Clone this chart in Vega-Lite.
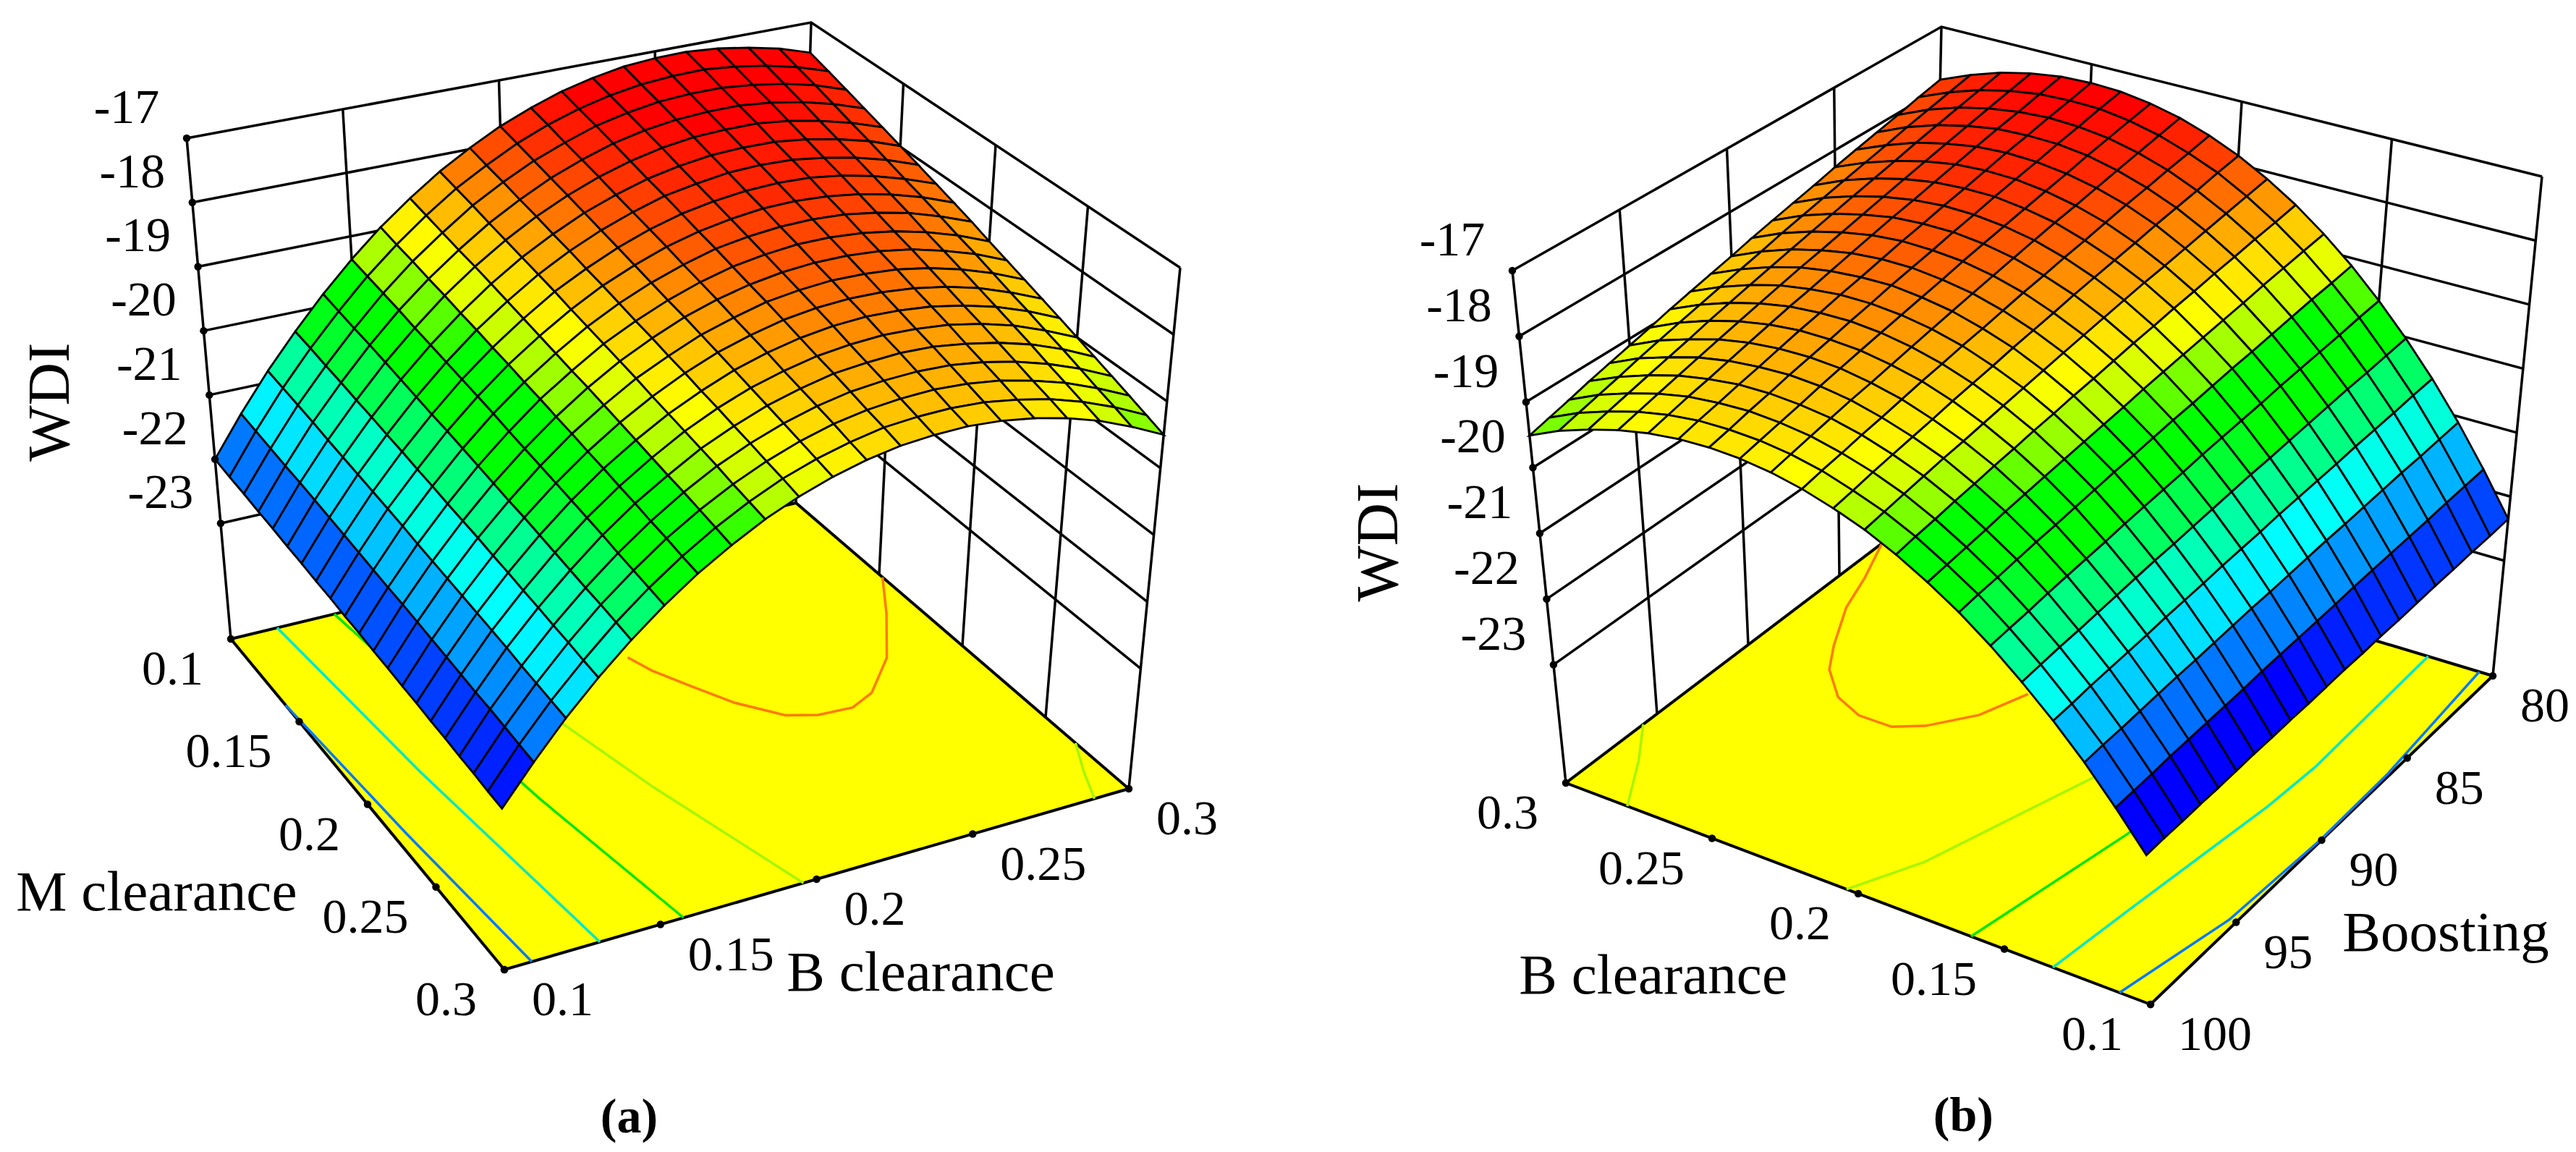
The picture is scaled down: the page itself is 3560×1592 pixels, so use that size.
{"$schema":"https://vega.github.io/schema/vega-lite/v6.json","width":3560,"height":1592,"padding":0,"autosize":{"type":"none"},"background":"#ffffff","view":{"stroke":null},
"data":{"values":[
{"s":"a","i":0,"j":0,"w":-22},{"s":"a","i":0,"j":1,"w":-22.03},{"s":"a","i":0,"j":2,"w":-22.05},{"s":"a","i":0,"j":3,"w":-22.08},{"s":"a","i":0,"j":4,"w":-22.1},{"s":"a","i":0,"j":5,"w":-22.13},{"s":"a","i":0,"j":6,"w":-22.15},{"s":"a","i":0,"j":7,"w":-22.18},{"s":"a","i":0,"j":8,"w":-22.2},{"s":"a","i":0,"j":9,"w":-22.23},{"s":"a","i":0,"j":10,"w":-22.25},{"s":"a","i":0,"j":11,"w":-22.28},{"s":"a","i":0,"j":12,"w":-22.3},{"s":"a","i":0,"j":13,"w":-22.33},{"s":"a","i":0,"j":14,"w":-22.35},{"s":"a","i":0,"j":15,"w":-22.38},{"s":"a","i":0,"j":16,"w":-22.4},{"s":"a","i":0,"j":17,"w":-22.43},{"s":"a","i":0,"j":18,"w":-22.45},{"s":"a","i":0,"j":19,"w":-22.48},{"s":"a","i":0,"j":20,"w":-22.5},
{"s":"a","i":1,"j":0,"w":-21.39},{"s":"a","i":1,"j":1,"w":-21.42},{"s":"a","i":1,"j":2,"w":-21.45},{"s":"a","i":1,"j":3,"w":-21.48},{"s":"a","i":1,"j":4,"w":-21.5},{"s":"a","i":1,"j":5,"w":-21.53},{"s":"a","i":1,"j":6,"w":-21.56},{"s":"a","i":1,"j":7,"w":-21.59},{"s":"a","i":1,"j":8,"w":-21.62},{"s":"a","i":1,"j":9,"w":-21.65},{"s":"a","i":1,"j":10,"w":-21.68},{"s":"a","i":1,"j":11,"w":-21.7},{"s":"a","i":1,"j":12,"w":-21.73},{"s":"a","i":1,"j":13,"w":-21.76},{"s":"a","i":1,"j":14,"w":-21.79},{"s":"a","i":1,"j":15,"w":-21.82},{"s":"a","i":1,"j":16,"w":-21.85},{"s":"a","i":1,"j":17,"w":-21.87},{"s":"a","i":1,"j":18,"w":-21.9},{"s":"a","i":1,"j":19,"w":-21.93},{"s":"a","i":1,"j":20,"w":-21.96},
{"s":"a","i":2,"j":0,"w":-20.82},{"s":"a","i":2,"j":1,"w":-20.85},{"s":"a","i":2,"j":2,"w":-20.88},{"s":"a","i":2,"j":3,"w":-20.91},{"s":"a","i":2,"j":4,"w":-20.95},{"s":"a","i":2,"j":5,"w":-20.98},{"s":"a","i":2,"j":6,"w":-21.01},{"s":"a","i":2,"j":7,"w":-21.04},{"s":"a","i":2,"j":8,"w":-21.07},{"s":"a","i":2,"j":9,"w":-21.1},{"s":"a","i":2,"j":10,"w":-21.14},{"s":"a","i":2,"j":11,"w":-21.17},{"s":"a","i":2,"j":12,"w":-21.2},{"s":"a","i":2,"j":13,"w":-21.23},{"s":"a","i":2,"j":14,"w":-21.26},{"s":"a","i":2,"j":15,"w":-21.29},{"s":"a","i":2,"j":16,"w":-21.32},{"s":"a","i":2,"j":17,"w":-21.36},{"s":"a","i":2,"j":18,"w":-21.39},{"s":"a","i":2,"j":19,"w":-21.42},{"s":"a","i":2,"j":20,"w":-21.45},
{"s":"a","i":3,"j":0,"w":-20.3},{"s":"a","i":3,"j":1,"w":-20.33},{"s":"a","i":3,"j":2,"w":-20.37},{"s":"a","i":3,"j":3,"w":-20.4},{"s":"a","i":3,"j":4,"w":-20.44},{"s":"a","i":3,"j":5,"w":-20.47},{"s":"a","i":3,"j":6,"w":-20.51},{"s":"a","i":3,"j":7,"w":-20.54},{"s":"a","i":3,"j":8,"w":-20.58},{"s":"a","i":3,"j":9,"w":-20.61},{"s":"a","i":3,"j":10,"w":-20.65},{"s":"a","i":3,"j":11,"w":-20.68},{"s":"a","i":3,"j":12,"w":-20.71},{"s":"a","i":3,"j":13,"w":-20.75},{"s":"a","i":3,"j":14,"w":-20.78},{"s":"a","i":3,"j":15,"w":-20.82},{"s":"a","i":3,"j":16,"w":-20.85},{"s":"a","i":3,"j":17,"w":-20.89},{"s":"a","i":3,"j":18,"w":-20.92},{"s":"a","i":3,"j":19,"w":-20.96},{"s":"a","i":3,"j":20,"w":-20.99},
{"s":"a","i":4,"j":0,"w":-19.81},{"s":"a","i":4,"j":1,"w":-19.85},{"s":"a","i":4,"j":2,"w":-19.89},{"s":"a","i":4,"j":3,"w":-19.92},{"s":"a","i":4,"j":4,"w":-19.96},{"s":"a","i":4,"j":5,"w":-20},{"s":"a","i":4,"j":6,"w":-20.04},{"s":"a","i":4,"j":7,"w":-20.08},{"s":"a","i":4,"j":8,"w":-20.11},{"s":"a","i":4,"j":9,"w":-20.15},{"s":"a","i":4,"j":10,"w":-20.19},{"s":"a","i":4,"j":11,"w":-20.23},{"s":"a","i":4,"j":12,"w":-20.27},{"s":"a","i":4,"j":13,"w":-20.3},{"s":"a","i":4,"j":14,"w":-20.34},{"s":"a","i":4,"j":15,"w":-20.38},{"s":"a","i":4,"j":16,"w":-20.42},{"s":"a","i":4,"j":17,"w":-20.46},{"s":"a","i":4,"j":18,"w":-20.49},{"s":"a","i":4,"j":19,"w":-20.53},{"s":"a","i":4,"j":20,"w":-20.57},
{"s":"a","i":5,"j":0,"w":-19.36},{"s":"a","i":5,"j":1,"w":-19.4},{"s":"a","i":5,"j":2,"w":-19.44},{"s":"a","i":5,"j":3,"w":-19.48},{"s":"a","i":5,"j":4,"w":-19.53},{"s":"a","i":5,"j":5,"w":-19.57},{"s":"a","i":5,"j":6,"w":-19.61},{"s":"a","i":5,"j":7,"w":-19.65},{"s":"a","i":5,"j":8,"w":-19.69},{"s":"a","i":5,"j":9,"w":-19.73},{"s":"a","i":5,"j":10,"w":-19.78},{"s":"a","i":5,"j":11,"w":-19.82},{"s":"a","i":5,"j":12,"w":-19.86},{"s":"a","i":5,"j":13,"w":-19.9},{"s":"a","i":5,"j":14,"w":-19.94},{"s":"a","i":5,"j":15,"w":-19.98},{"s":"a","i":5,"j":16,"w":-20.02},{"s":"a","i":5,"j":17,"w":-20.07},{"s":"a","i":5,"j":18,"w":-20.11},{"s":"a","i":5,"j":19,"w":-20.15},{"s":"a","i":5,"j":20,"w":-20.19},
{"s":"a","i":6,"j":0,"w":-18.95},{"s":"a","i":6,"j":1,"w":-19},{"s":"a","i":6,"j":2,"w":-19.04},{"s":"a","i":6,"j":3,"w":-19.09},{"s":"a","i":6,"j":4,"w":-19.13},{"s":"a","i":6,"j":5,"w":-19.18},{"s":"a","i":6,"j":6,"w":-19.22},{"s":"a","i":6,"j":7,"w":-19.27},{"s":"a","i":6,"j":8,"w":-19.31},{"s":"a","i":6,"j":9,"w":-19.36},{"s":"a","i":6,"j":10,"w":-19.4},{"s":"a","i":6,"j":11,"w":-19.45},{"s":"a","i":6,"j":12,"w":-19.49},{"s":"a","i":6,"j":13,"w":-19.54},{"s":"a","i":6,"j":14,"w":-19.58},{"s":"a","i":6,"j":15,"w":-19.63},{"s":"a","i":6,"j":16,"w":-19.67},{"s":"a","i":6,"j":17,"w":-19.72},{"s":"a","i":6,"j":18,"w":-19.76},{"s":"a","i":6,"j":19,"w":-19.81},{"s":"a","i":6,"j":20,"w":-19.85},
{"s":"a","i":7,"j":0,"w":-18.59},{"s":"a","i":7,"j":1,"w":-18.64},{"s":"a","i":7,"j":2,"w":-18.69},{"s":"a","i":7,"j":3,"w":-18.74},{"s":"a","i":7,"j":4,"w":-18.78},{"s":"a","i":7,"j":5,"w":-18.83},{"s":"a","i":7,"j":6,"w":-18.88},{"s":"a","i":7,"j":7,"w":-18.93},{"s":"a","i":7,"j":8,"w":-18.98},{"s":"a","i":7,"j":9,"w":-19.03},{"s":"a","i":7,"j":10,"w":-19.08},{"s":"a","i":7,"j":11,"w":-19.12},{"s":"a","i":7,"j":12,"w":-19.17},{"s":"a","i":7,"j":13,"w":-19.22},{"s":"a","i":7,"j":14,"w":-19.27},{"s":"a","i":7,"j":15,"w":-19.32},{"s":"a","i":7,"j":16,"w":-19.37},{"s":"a","i":7,"j":17,"w":-19.41},{"s":"a","i":7,"j":18,"w":-19.46},{"s":"a","i":7,"j":19,"w":-19.51},{"s":"a","i":7,"j":20,"w":-19.56},
{"s":"a","i":8,"j":0,"w":-18.26},{"s":"a","i":8,"j":1,"w":-18.31},{"s":"a","i":8,"j":2,"w":-18.36},{"s":"a","i":8,"j":3,"w":-18.42},{"s":"a","i":8,"j":4,"w":-18.47},{"s":"a","i":8,"j":5,"w":-18.52},{"s":"a","i":8,"j":6,"w":-18.57},{"s":"a","i":8,"j":7,"w":-18.62},{"s":"a","i":8,"j":8,"w":-18.68},{"s":"a","i":8,"j":9,"w":-18.73},{"s":"a","i":8,"j":10,"w":-18.78},{"s":"a","i":8,"j":11,"w":-18.83},{"s":"a","i":8,"j":12,"w":-18.88},{"s":"a","i":8,"j":13,"w":-18.94},{"s":"a","i":8,"j":14,"w":-18.99},{"s":"a","i":8,"j":15,"w":-19.04},{"s":"a","i":8,"j":16,"w":-19.09},{"s":"a","i":8,"j":17,"w":-19.14},{"s":"a","i":8,"j":18,"w":-19.2},{"s":"a","i":8,"j":19,"w":-19.25},{"s":"a","i":8,"j":20,"w":-19.3},
{"s":"a","i":9,"j":0,"w":-17.98},{"s":"a","i":9,"j":1,"w":-18.04},{"s":"a","i":9,"j":2,"w":-18.09},{"s":"a","i":9,"j":3,"w":-18.15},{"s":"a","i":9,"j":4,"w":-18.2},{"s":"a","i":9,"j":5,"w":-18.26},{"s":"a","i":9,"j":6,"w":-18.31},{"s":"a","i":9,"j":7,"w":-18.37},{"s":"a","i":9,"j":8,"w":-18.42},{"s":"a","i":9,"j":9,"w":-18.48},{"s":"a","i":9,"j":10,"w":-18.54},{"s":"a","i":9,"j":11,"w":-18.59},{"s":"a","i":9,"j":12,"w":-18.65},{"s":"a","i":9,"j":13,"w":-18.7},{"s":"a","i":9,"j":14,"w":-18.76},{"s":"a","i":9,"j":15,"w":-18.81},{"s":"a","i":9,"j":16,"w":-18.87},{"s":"a","i":9,"j":17,"w":-18.92},{"s":"a","i":9,"j":18,"w":-18.98},{"s":"a","i":9,"j":19,"w":-19.03},{"s":"a","i":9,"j":20,"w":-19.09},
{"s":"a","i":10,"j":0,"w":-17.73},{"s":"a","i":10,"j":1,"w":-17.79},{"s":"a","i":10,"j":2,"w":-17.85},{"s":"a","i":10,"j":3,"w":-17.91},{"s":"a","i":10,"j":4,"w":-17.97},{"s":"a","i":10,"j":5,"w":-18.03},{"s":"a","i":10,"j":6,"w":-18.09},{"s":"a","i":10,"j":7,"w":-18.15},{"s":"a","i":10,"j":8,"w":-18.21},{"s":"a","i":10,"j":9,"w":-18.27},{"s":"a","i":10,"j":10,"w":-18.33},{"s":"a","i":10,"j":11,"w":-18.38},{"s":"a","i":10,"j":12,"w":-18.44},{"s":"a","i":10,"j":13,"w":-18.5},{"s":"a","i":10,"j":14,"w":-18.56},{"s":"a","i":10,"j":15,"w":-18.62},{"s":"a","i":10,"j":16,"w":-18.68},{"s":"a","i":10,"j":17,"w":-18.74},{"s":"a","i":10,"j":18,"w":-18.8},{"s":"a","i":10,"j":19,"w":-18.86},{"s":"a","i":10,"j":20,"w":-18.92},
{"s":"a","i":11,"j":0,"w":-17.53},{"s":"a","i":11,"j":1,"w":-17.59},{"s":"a","i":11,"j":2,"w":-17.66},{"s":"a","i":11,"j":3,"w":-17.72},{"s":"a","i":11,"j":4,"w":-17.78},{"s":"a","i":11,"j":5,"w":-17.85},{"s":"a","i":11,"j":6,"w":-17.91},{"s":"a","i":11,"j":7,"w":-17.97},{"s":"a","i":11,"j":8,"w":-18.03},{"s":"a","i":11,"j":9,"w":-18.1},{"s":"a","i":11,"j":10,"w":-18.16},{"s":"a","i":11,"j":11,"w":-18.22},{"s":"a","i":11,"j":12,"w":-18.29},{"s":"a","i":11,"j":13,"w":-18.35},{"s":"a","i":11,"j":14,"w":-18.41},{"s":"a","i":11,"j":15,"w":-18.48},{"s":"a","i":11,"j":16,"w":-18.54},{"s":"a","i":11,"j":17,"w":-18.6},{"s":"a","i":11,"j":18,"w":-18.66},{"s":"a","i":11,"j":19,"w":-18.73},{"s":"a","i":11,"j":20,"w":-18.79},
{"s":"a","i":12,"j":0,"w":-17.36},{"s":"a","i":12,"j":1,"w":-17.43},{"s":"a","i":12,"j":2,"w":-17.49},{"s":"a","i":12,"j":3,"w":-17.56},{"s":"a","i":12,"j":4,"w":-17.63},{"s":"a","i":12,"j":5,"w":-17.7},{"s":"a","i":12,"j":6,"w":-17.76},{"s":"a","i":12,"j":7,"w":-17.83},{"s":"a","i":12,"j":8,"w":-17.9},{"s":"a","i":12,"j":9,"w":-17.96},{"s":"a","i":12,"j":10,"w":-18.03},{"s":"a","i":12,"j":11,"w":-18.1},{"s":"a","i":12,"j":12,"w":-18.16},{"s":"a","i":12,"j":13,"w":-18.23},{"s":"a","i":12,"j":14,"w":-18.3},{"s":"a","i":12,"j":15,"w":-18.37},{"s":"a","i":12,"j":16,"w":-18.43},{"s":"a","i":12,"j":17,"w":-18.5},{"s":"a","i":12,"j":18,"w":-18.57},{"s":"a","i":12,"j":19,"w":-18.63},{"s":"a","i":12,"j":20,"w":-18.7},
{"s":"a","i":13,"j":0,"w":-17.24},{"s":"a","i":13,"j":1,"w":-17.31},{"s":"a","i":13,"j":2,"w":-17.38},{"s":"a","i":13,"j":3,"w":-17.45},{"s":"a","i":13,"j":4,"w":-17.52},{"s":"a","i":13,"j":5,"w":-17.6},{"s":"a","i":13,"j":6,"w":-17.67},{"s":"a","i":13,"j":7,"w":-17.74},{"s":"a","i":13,"j":8,"w":-17.81},{"s":"a","i":13,"j":9,"w":-17.88},{"s":"a","i":13,"j":10,"w":-17.95},{"s":"a","i":13,"j":11,"w":-18.02},{"s":"a","i":13,"j":12,"w":-18.09},{"s":"a","i":13,"j":13,"w":-18.16},{"s":"a","i":13,"j":14,"w":-18.23},{"s":"a","i":13,"j":15,"w":-18.31},{"s":"a","i":13,"j":16,"w":-18.38},{"s":"a","i":13,"j":17,"w":-18.45},{"s":"a","i":13,"j":18,"w":-18.52},{"s":"a","i":13,"j":19,"w":-18.59},{"s":"a","i":13,"j":20,"w":-18.66},
{"s":"a","i":14,"j":0,"w":-17.15},{"s":"a","i":14,"j":1,"w":-17.23},{"s":"a","i":14,"j":2,"w":-17.3},{"s":"a","i":14,"j":3,"w":-17.38},{"s":"a","i":14,"j":4,"w":-17.45},{"s":"a","i":14,"j":5,"w":-17.53},{"s":"a","i":14,"j":6,"w":-17.6},{"s":"a","i":14,"j":7,"w":-17.68},{"s":"a","i":14,"j":8,"w":-17.75},{"s":"a","i":14,"j":9,"w":-17.83},{"s":"a","i":14,"j":10,"w":-17.9},{"s":"a","i":14,"j":11,"w":-17.98},{"s":"a","i":14,"j":12,"w":-18.05},{"s":"a","i":14,"j":13,"w":-18.13},{"s":"a","i":14,"j":14,"w":-18.2},{"s":"a","i":14,"j":15,"w":-18.28},{"s":"a","i":14,"j":16,"w":-18.35},{"s":"a","i":14,"j":17,"w":-18.43},{"s":"a","i":14,"j":18,"w":-18.5},{"s":"a","i":14,"j":19,"w":-18.58},{"s":"a","i":14,"j":20,"w":-18.65},
{"s":"a","i":15,"j":0,"w":-17.11},{"s":"a","i":15,"j":1,"w":-17.19},{"s":"a","i":15,"j":2,"w":-17.27},{"s":"a","i":15,"j":3,"w":-17.35},{"s":"a","i":15,"j":4,"w":-17.43},{"s":"a","i":15,"j":5,"w":-17.51},{"s":"a","i":15,"j":6,"w":-17.58},{"s":"a","i":15,"j":7,"w":-17.66},{"s":"a","i":15,"j":8,"w":-17.74},{"s":"a","i":15,"j":9,"w":-17.82},{"s":"a","i":15,"j":10,"w":-17.9},{"s":"a","i":15,"j":11,"w":-17.98},{"s":"a","i":15,"j":12,"w":-18.06},{"s":"a","i":15,"j":13,"w":-18.14},{"s":"a","i":15,"j":14,"w":-18.22},{"s":"a","i":15,"j":15,"w":-18.3},{"s":"a","i":15,"j":16,"w":-18.37},{"s":"a","i":15,"j":17,"w":-18.45},{"s":"a","i":15,"j":18,"w":-18.53},{"s":"a","i":15,"j":19,"w":-18.61},{"s":"a","i":15,"j":20,"w":-18.69},
{"s":"a","i":16,"j":0,"w":-17.1},{"s":"a","i":16,"j":1,"w":-17.18},{"s":"a","i":16,"j":2,"w":-17.27},{"s":"a","i":16,"j":3,"w":-17.35},{"s":"a","i":16,"j":4,"w":-17.43},{"s":"a","i":16,"j":5,"w":-17.52},{"s":"a","i":16,"j":6,"w":-17.6},{"s":"a","i":16,"j":7,"w":-17.68},{"s":"a","i":16,"j":8,"w":-17.77},{"s":"a","i":16,"j":9,"w":-17.85},{"s":"a","i":16,"j":10,"w":-17.94},{"s":"a","i":16,"j":11,"w":-18.02},{"s":"a","i":16,"j":12,"w":-18.1},{"s":"a","i":16,"j":13,"w":-18.19},{"s":"a","i":16,"j":14,"w":-18.27},{"s":"a","i":16,"j":15,"w":-18.35},{"s":"a","i":16,"j":16,"w":-18.44},{"s":"a","i":16,"j":17,"w":-18.52},{"s":"a","i":16,"j":18,"w":-18.6},{"s":"a","i":16,"j":19,"w":-18.69},{"s":"a","i":16,"j":20,"w":-18.77},
{"s":"a","i":17,"j":0,"w":-17.14},{"s":"a","i":17,"j":1,"w":-17.23},{"s":"a","i":17,"j":2,"w":-17.32},{"s":"a","i":17,"j":3,"w":-17.4},{"s":"a","i":17,"j":4,"w":-17.49},{"s":"a","i":17,"j":5,"w":-17.58},{"s":"a","i":17,"j":6,"w":-17.67},{"s":"a","i":17,"j":7,"w":-17.75},{"s":"a","i":17,"j":8,"w":-17.84},{"s":"a","i":17,"j":9,"w":-17.93},{"s":"a","i":17,"j":10,"w":-18.02},{"s":"a","i":17,"j":11,"w":-18.1},{"s":"a","i":17,"j":12,"w":-18.19},{"s":"a","i":17,"j":13,"w":-18.28},{"s":"a","i":17,"j":14,"w":-18.37},{"s":"a","i":17,"j":15,"w":-18.45},{"s":"a","i":17,"j":16,"w":-18.54},{"s":"a","i":17,"j":17,"w":-18.63},{"s":"a","i":17,"j":18,"w":-18.72},{"s":"a","i":17,"j":19,"w":-18.8},{"s":"a","i":17,"j":20,"w":-18.89},
{"s":"a","i":18,"j":0,"w":-17.22},{"s":"a","i":18,"j":1,"w":-17.31},{"s":"a","i":18,"j":2,"w":-17.4},{"s":"a","i":18,"j":3,"w":-17.49},{"s":"a","i":18,"j":4,"w":-17.59},{"s":"a","i":18,"j":5,"w":-17.68},{"s":"a","i":18,"j":6,"w":-17.77},{"s":"a","i":18,"j":7,"w":-17.86},{"s":"a","i":18,"j":8,"w":-17.95},{"s":"a","i":18,"j":9,"w":-18.04},{"s":"a","i":18,"j":10,"w":-18.14},{"s":"a","i":18,"j":11,"w":-18.23},{"s":"a","i":18,"j":12,"w":-18.32},{"s":"a","i":18,"j":13,"w":-18.41},{"s":"a","i":18,"j":14,"w":-18.5},{"s":"a","i":18,"j":15,"w":-18.59},{"s":"a","i":18,"j":16,"w":-18.68},{"s":"a","i":18,"j":17,"w":-18.78},{"s":"a","i":18,"j":18,"w":-18.87},{"s":"a","i":18,"j":19,"w":-18.96},{"s":"a","i":18,"j":20,"w":-19.05},
{"s":"a","i":19,"j":0,"w":-17.33},{"s":"a","i":19,"j":1,"w":-17.43},{"s":"a","i":19,"j":2,"w":-17.52},{"s":"a","i":19,"j":3,"w":-17.62},{"s":"a","i":19,"j":4,"w":-17.72},{"s":"a","i":19,"j":5,"w":-17.81},{"s":"a","i":19,"j":6,"w":-17.91},{"s":"a","i":19,"j":7,"w":-18.01},{"s":"a","i":19,"j":8,"w":-18.1},{"s":"a","i":19,"j":9,"w":-18.2},{"s":"a","i":19,"j":10,"w":-18.3},{"s":"a","i":19,"j":11,"w":-18.39},{"s":"a","i":19,"j":12,"w":-18.49},{"s":"a","i":19,"j":13,"w":-18.59},{"s":"a","i":19,"j":14,"w":-18.68},{"s":"a","i":19,"j":15,"w":-18.78},{"s":"a","i":19,"j":16,"w":-18.87},{"s":"a","i":19,"j":17,"w":-18.97},{"s":"a","i":19,"j":18,"w":-19.07},{"s":"a","i":19,"j":19,"w":-19.16},{"s":"a","i":19,"j":20,"w":-19.26},
{"s":"a","i":20,"j":0,"w":-17.49},{"s":"a","i":20,"j":1,"w":-17.59},{"s":"a","i":20,"j":2,"w":-17.69},{"s":"a","i":20,"j":3,"w":-17.79},{"s":"a","i":20,"j":4,"w":-17.89},{"s":"a","i":20,"j":5,"w":-17.99},{"s":"a","i":20,"j":6,"w":-18.09},{"s":"a","i":20,"j":7,"w":-18.19},{"s":"a","i":20,"j":8,"w":-18.29},{"s":"a","i":20,"j":9,"w":-18.39},{"s":"a","i":20,"j":10,"w":-18.5},{"s":"a","i":20,"j":11,"w":-18.6},{"s":"a","i":20,"j":12,"w":-18.7},{"s":"a","i":20,"j":13,"w":-18.8},{"s":"a","i":20,"j":14,"w":-18.9},{"s":"a","i":20,"j":15,"w":-19},{"s":"a","i":20,"j":16,"w":-19.1},{"s":"a","i":20,"j":17,"w":-19.2},{"s":"a","i":20,"j":18,"w":-19.3},{"s":"a","i":20,"j":19,"w":-19.4},{"s":"a","i":20,"j":20,"w":-19.5},
{"s":"b","i":0,"j":0,"w":-22.35},{"s":"b","i":0,"j":1,"w":-22.37},{"s":"b","i":0,"j":2,"w":-22.38},{"s":"b","i":0,"j":3,"w":-22.4},{"s":"b","i":0,"j":4,"w":-22.41},{"s":"b","i":0,"j":5,"w":-22.43},{"s":"b","i":0,"j":6,"w":-22.45},{"s":"b","i":0,"j":7,"w":-22.46},{"s":"b","i":0,"j":8,"w":-22.48},{"s":"b","i":0,"j":9,"w":-22.49},{"s":"b","i":0,"j":10,"w":-22.51},{"s":"b","i":0,"j":11,"w":-22.53},{"s":"b","i":0,"j":12,"w":-22.54},{"s":"b","i":0,"j":13,"w":-22.56},{"s":"b","i":0,"j":14,"w":-22.57},{"s":"b","i":0,"j":15,"w":-22.59},{"s":"b","i":0,"j":16,"w":-22.61},{"s":"b","i":0,"j":17,"w":-22.62},{"s":"b","i":0,"j":18,"w":-22.64},{"s":"b","i":0,"j":19,"w":-22.65},{"s":"b","i":0,"j":20,"w":-22.67},
{"s":"b","i":1,"j":0,"w":-21.7},{"s":"b","i":1,"j":1,"w":-21.72},{"s":"b","i":1,"j":2,"w":-21.74},{"s":"b","i":1,"j":3,"w":-21.77},{"s":"b","i":1,"j":4,"w":-21.79},{"s":"b","i":1,"j":5,"w":-21.81},{"s":"b","i":1,"j":6,"w":-21.83},{"s":"b","i":1,"j":7,"w":-21.85},{"s":"b","i":1,"j":8,"w":-21.88},{"s":"b","i":1,"j":9,"w":-21.9},{"s":"b","i":1,"j":10,"w":-21.92},{"s":"b","i":1,"j":11,"w":-21.94},{"s":"b","i":1,"j":12,"w":-21.96},{"s":"b","i":1,"j":13,"w":-21.99},{"s":"b","i":1,"j":14,"w":-22.01},{"s":"b","i":1,"j":15,"w":-22.03},{"s":"b","i":1,"j":16,"w":-22.05},{"s":"b","i":1,"j":17,"w":-22.07},{"s":"b","i":1,"j":18,"w":-22.1},{"s":"b","i":1,"j":19,"w":-22.12},{"s":"b","i":1,"j":20,"w":-22.14},
{"s":"b","i":2,"j":0,"w":-21.09},{"s":"b","i":2,"j":1,"w":-21.12},{"s":"b","i":2,"j":2,"w":-21.15},{"s":"b","i":2,"j":3,"w":-21.17},{"s":"b","i":2,"j":4,"w":-21.2},{"s":"b","i":2,"j":5,"w":-21.23},{"s":"b","i":2,"j":6,"w":-21.26},{"s":"b","i":2,"j":7,"w":-21.28},{"s":"b","i":2,"j":8,"w":-21.31},{"s":"b","i":2,"j":9,"w":-21.34},{"s":"b","i":2,"j":10,"w":-21.37},{"s":"b","i":2,"j":11,"w":-21.39},{"s":"b","i":2,"j":12,"w":-21.42},{"s":"b","i":2,"j":13,"w":-21.45},{"s":"b","i":2,"j":14,"w":-21.48},{"s":"b","i":2,"j":15,"w":-21.5},{"s":"b","i":2,"j":16,"w":-21.53},{"s":"b","i":2,"j":17,"w":-21.56},{"s":"b","i":2,"j":18,"w":-21.59},{"s":"b","i":2,"j":19,"w":-21.61},{"s":"b","i":2,"j":20,"w":-21.64},
{"s":"b","i":3,"j":0,"w":-20.53},{"s":"b","i":3,"j":1,"w":-20.56},{"s":"b","i":3,"j":2,"w":-20.6},{"s":"b","i":3,"j":3,"w":-20.63},{"s":"b","i":3,"j":4,"w":-20.66},{"s":"b","i":3,"j":5,"w":-20.7},{"s":"b","i":3,"j":6,"w":-20.73},{"s":"b","i":3,"j":7,"w":-20.76},{"s":"b","i":3,"j":8,"w":-20.79},{"s":"b","i":3,"j":9,"w":-20.83},{"s":"b","i":3,"j":10,"w":-20.86},{"s":"b","i":3,"j":11,"w":-20.89},{"s":"b","i":3,"j":12,"w":-20.93},{"s":"b","i":3,"j":13,"w":-20.96},{"s":"b","i":3,"j":14,"w":-20.99},{"s":"b","i":3,"j":15,"w":-21.03},{"s":"b","i":3,"j":16,"w":-21.06},{"s":"b","i":3,"j":17,"w":-21.09},{"s":"b","i":3,"j":18,"w":-21.12},{"s":"b","i":3,"j":19,"w":-21.16},{"s":"b","i":3,"j":20,"w":-21.19},
{"s":"b","i":4,"j":0,"w":-20.02},{"s":"b","i":4,"j":1,"w":-20.06},{"s":"b","i":4,"j":2,"w":-20.1},{"s":"b","i":4,"j":3,"w":-20.13},{"s":"b","i":4,"j":4,"w":-20.17},{"s":"b","i":4,"j":5,"w":-20.21},{"s":"b","i":4,"j":6,"w":-20.25},{"s":"b","i":4,"j":7,"w":-20.29},{"s":"b","i":4,"j":8,"w":-20.32},{"s":"b","i":4,"j":9,"w":-20.36},{"s":"b","i":4,"j":10,"w":-20.4},{"s":"b","i":4,"j":11,"w":-20.44},{"s":"b","i":4,"j":12,"w":-20.48},{"s":"b","i":4,"j":13,"w":-20.51},{"s":"b","i":4,"j":14,"w":-20.55},{"s":"b","i":4,"j":15,"w":-20.59},{"s":"b","i":4,"j":16,"w":-20.63},{"s":"b","i":4,"j":17,"w":-20.67},{"s":"b","i":4,"j":18,"w":-20.7},{"s":"b","i":4,"j":19,"w":-20.74},{"s":"b","i":4,"j":20,"w":-20.78},
{"s":"b","i":5,"j":0,"w":-19.55},{"s":"b","i":5,"j":1,"w":-19.59},{"s":"b","i":5,"j":2,"w":-19.64},{"s":"b","i":5,"j":3,"w":-19.68},{"s":"b","i":5,"j":4,"w":-19.72},{"s":"b","i":5,"j":5,"w":-19.76},{"s":"b","i":5,"j":6,"w":-19.81},{"s":"b","i":5,"j":7,"w":-19.85},{"s":"b","i":5,"j":8,"w":-19.89},{"s":"b","i":5,"j":9,"w":-19.93},{"s":"b","i":5,"j":10,"w":-19.98},{"s":"b","i":5,"j":11,"w":-20.02},{"s":"b","i":5,"j":12,"w":-20.06},{"s":"b","i":5,"j":13,"w":-20.1},{"s":"b","i":5,"j":14,"w":-20.15},{"s":"b","i":5,"j":15,"w":-20.19},{"s":"b","i":5,"j":16,"w":-20.23},{"s":"b","i":5,"j":17,"w":-20.27},{"s":"b","i":5,"j":18,"w":-20.32},{"s":"b","i":5,"j":19,"w":-20.36},{"s":"b","i":5,"j":20,"w":-20.4},
{"s":"b","i":6,"j":0,"w":-19.12},{"s":"b","i":6,"j":1,"w":-19.17},{"s":"b","i":6,"j":2,"w":-19.21},{"s":"b","i":6,"j":3,"w":-19.26},{"s":"b","i":6,"j":4,"w":-19.31},{"s":"b","i":6,"j":5,"w":-19.36},{"s":"b","i":6,"j":6,"w":-19.4},{"s":"b","i":6,"j":7,"w":-19.45},{"s":"b","i":6,"j":8,"w":-19.5},{"s":"b","i":6,"j":9,"w":-19.54},{"s":"b","i":6,"j":10,"w":-19.59},{"s":"b","i":6,"j":11,"w":-19.64},{"s":"b","i":6,"j":12,"w":-19.68},{"s":"b","i":6,"j":13,"w":-19.73},{"s":"b","i":6,"j":14,"w":-19.78},{"s":"b","i":6,"j":15,"w":-19.83},{"s":"b","i":6,"j":16,"w":-19.87},{"s":"b","i":6,"j":17,"w":-19.92},{"s":"b","i":6,"j":18,"w":-19.97},{"s":"b","i":6,"j":19,"w":-20.01},{"s":"b","i":6,"j":20,"w":-20.06},
{"s":"b","i":7,"j":0,"w":-18.74},{"s":"b","i":7,"j":1,"w":-18.79},{"s":"b","i":7,"j":2,"w":-18.84},{"s":"b","i":7,"j":3,"w":-18.89},{"s":"b","i":7,"j":4,"w":-18.95},{"s":"b","i":7,"j":5,"w":-19},{"s":"b","i":7,"j":6,"w":-19.05},{"s":"b","i":7,"j":7,"w":-19.1},{"s":"b","i":7,"j":8,"w":-19.15},{"s":"b","i":7,"j":9,"w":-19.2},{"s":"b","i":7,"j":10,"w":-19.26},{"s":"b","i":7,"j":11,"w":-19.31},{"s":"b","i":7,"j":12,"w":-19.36},{"s":"b","i":7,"j":13,"w":-19.41},{"s":"b","i":7,"j":14,"w":-19.46},{"s":"b","i":7,"j":15,"w":-19.51},{"s":"b","i":7,"j":16,"w":-19.56},{"s":"b","i":7,"j":17,"w":-19.62},{"s":"b","i":7,"j":18,"w":-19.67},{"s":"b","i":7,"j":19,"w":-19.72},{"s":"b","i":7,"j":20,"w":-19.77},
{"s":"b","i":8,"j":0,"w":-18.4},{"s":"b","i":8,"j":1,"w":-18.46},{"s":"b","i":8,"j":2,"w":-18.51},{"s":"b","i":8,"j":3,"w":-18.57},{"s":"b","i":8,"j":4,"w":-18.62},{"s":"b","i":8,"j":5,"w":-18.68},{"s":"b","i":8,"j":6,"w":-18.73},{"s":"b","i":8,"j":7,"w":-18.79},{"s":"b","i":8,"j":8,"w":-18.84},{"s":"b","i":8,"j":9,"w":-18.9},{"s":"b","i":8,"j":10,"w":-18.96},{"s":"b","i":8,"j":11,"w":-19.01},{"s":"b","i":8,"j":12,"w":-19.07},{"s":"b","i":8,"j":13,"w":-19.12},{"s":"b","i":8,"j":14,"w":-19.18},{"s":"b","i":8,"j":15,"w":-19.23},{"s":"b","i":8,"j":16,"w":-19.29},{"s":"b","i":8,"j":17,"w":-19.34},{"s":"b","i":8,"j":18,"w":-19.4},{"s":"b","i":8,"j":19,"w":-19.45},{"s":"b","i":8,"j":20,"w":-19.51},
{"s":"b","i":9,"j":0,"w":-18.11},{"s":"b","i":9,"j":1,"w":-18.17},{"s":"b","i":9,"j":2,"w":-18.23},{"s":"b","i":9,"j":3,"w":-18.29},{"s":"b","i":9,"j":4,"w":-18.35},{"s":"b","i":9,"j":5,"w":-18.41},{"s":"b","i":9,"j":6,"w":-18.46},{"s":"b","i":9,"j":7,"w":-18.52},{"s":"b","i":9,"j":8,"w":-18.58},{"s":"b","i":9,"j":9,"w":-18.64},{"s":"b","i":9,"j":10,"w":-18.7},{"s":"b","i":9,"j":11,"w":-18.76},{"s":"b","i":9,"j":12,"w":-18.82},{"s":"b","i":9,"j":13,"w":-18.88},{"s":"b","i":9,"j":14,"w":-18.94},{"s":"b","i":9,"j":15,"w":-19},{"s":"b","i":9,"j":16,"w":-19.05},{"s":"b","i":9,"j":17,"w":-19.11},{"s":"b","i":9,"j":18,"w":-19.17},{"s":"b","i":9,"j":19,"w":-19.23},{"s":"b","i":9,"j":20,"w":-19.29},
{"s":"b","i":10,"j":0,"w":-17.86},{"s":"b","i":10,"j":1,"w":-17.92},{"s":"b","i":10,"j":2,"w":-17.99},{"s":"b","i":10,"j":3,"w":-18.05},{"s":"b","i":10,"j":4,"w":-18.11},{"s":"b","i":10,"j":5,"w":-18.18},{"s":"b","i":10,"j":6,"w":-18.24},{"s":"b","i":10,"j":7,"w":-18.3},{"s":"b","i":10,"j":8,"w":-18.36},{"s":"b","i":10,"j":9,"w":-18.43},{"s":"b","i":10,"j":10,"w":-18.49},{"s":"b","i":10,"j":11,"w":-18.55},{"s":"b","i":10,"j":12,"w":-18.62},{"s":"b","i":10,"j":13,"w":-18.68},{"s":"b","i":10,"j":14,"w":-18.74},{"s":"b","i":10,"j":15,"w":-18.81},{"s":"b","i":10,"j":16,"w":-18.87},{"s":"b","i":10,"j":17,"w":-18.93},{"s":"b","i":10,"j":18,"w":-18.99},{"s":"b","i":10,"j":19,"w":-19.06},{"s":"b","i":10,"j":20,"w":-19.12},
{"s":"b","i":11,"j":0,"w":-17.66},{"s":"b","i":11,"j":1,"w":-17.73},{"s":"b","i":11,"j":2,"w":-17.79},{"s":"b","i":11,"j":3,"w":-17.86},{"s":"b","i":11,"j":4,"w":-17.92},{"s":"b","i":11,"j":5,"w":-17.99},{"s":"b","i":11,"j":6,"w":-18.06},{"s":"b","i":11,"j":7,"w":-18.12},{"s":"b","i":11,"j":8,"w":-18.19},{"s":"b","i":11,"j":9,"w":-18.25},{"s":"b","i":11,"j":10,"w":-18.32},{"s":"b","i":11,"j":11,"w":-18.39},{"s":"b","i":11,"j":12,"w":-18.45},{"s":"b","i":11,"j":13,"w":-18.52},{"s":"b","i":11,"j":14,"w":-18.58},{"s":"b","i":11,"j":15,"w":-18.65},{"s":"b","i":11,"j":16,"w":-18.72},{"s":"b","i":11,"j":17,"w":-18.78},{"s":"b","i":11,"j":18,"w":-18.85},{"s":"b","i":11,"j":19,"w":-18.91},{"s":"b","i":11,"j":20,"w":-18.98},
{"s":"b","i":12,"j":0,"w":-17.5},{"s":"b","i":12,"j":1,"w":-17.57},{"s":"b","i":12,"j":2,"w":-17.64},{"s":"b","i":12,"j":3,"w":-17.71},{"s":"b","i":12,"j":4,"w":-17.78},{"s":"b","i":12,"j":5,"w":-17.85},{"s":"b","i":12,"j":6,"w":-17.91},{"s":"b","i":12,"j":7,"w":-17.98},{"s":"b","i":12,"j":8,"w":-18.05},{"s":"b","i":12,"j":9,"w":-18.12},{"s":"b","i":12,"j":10,"w":-18.19},{"s":"b","i":12,"j":11,"w":-18.26},{"s":"b","i":12,"j":12,"w":-18.33},{"s":"b","i":12,"j":13,"w":-18.4},{"s":"b","i":12,"j":14,"w":-18.47},{"s":"b","i":12,"j":15,"w":-18.54},{"s":"b","i":12,"j":16,"w":-18.6},{"s":"b","i":12,"j":17,"w":-18.67},{"s":"b","i":12,"j":18,"w":-18.74},{"s":"b","i":12,"j":19,"w":-18.81},{"s":"b","i":12,"j":20,"w":-18.88},
{"s":"b","i":13,"j":0,"w":-17.39},{"s":"b","i":13,"j":1,"w":-17.46},{"s":"b","i":13,"j":2,"w":-17.53},{"s":"b","i":13,"j":3,"w":-17.6},{"s":"b","i":13,"j":4,"w":-17.68},{"s":"b","i":13,"j":5,"w":-17.75},{"s":"b","i":13,"j":6,"w":-17.82},{"s":"b","i":13,"j":7,"w":-17.89},{"s":"b","i":13,"j":8,"w":-17.96},{"s":"b","i":13,"j":9,"w":-18.03},{"s":"b","i":13,"j":10,"w":-18.11},{"s":"b","i":13,"j":11,"w":-18.18},{"s":"b","i":13,"j":12,"w":-18.25},{"s":"b","i":13,"j":13,"w":-18.32},{"s":"b","i":13,"j":14,"w":-18.39},{"s":"b","i":13,"j":15,"w":-18.46},{"s":"b","i":13,"j":16,"w":-18.53},{"s":"b","i":13,"j":17,"w":-18.61},{"s":"b","i":13,"j":18,"w":-18.68},{"s":"b","i":13,"j":19,"w":-18.75},{"s":"b","i":13,"j":20,"w":-18.82},
{"s":"b","i":14,"j":0,"w":-17.32},{"s":"b","i":14,"j":1,"w":-17.39},{"s":"b","i":14,"j":2,"w":-17.47},{"s":"b","i":14,"j":3,"w":-17.54},{"s":"b","i":14,"j":4,"w":-17.62},{"s":"b","i":14,"j":5,"w":-17.69},{"s":"b","i":14,"j":6,"w":-17.76},{"s":"b","i":14,"j":7,"w":-17.84},{"s":"b","i":14,"j":8,"w":-17.91},{"s":"b","i":14,"j":9,"w":-17.99},{"s":"b","i":14,"j":10,"w":-18.06},{"s":"b","i":14,"j":11,"w":-18.13},{"s":"b","i":14,"j":12,"w":-18.21},{"s":"b","i":14,"j":13,"w":-18.28},{"s":"b","i":14,"j":14,"w":-18.36},{"s":"b","i":14,"j":15,"w":-18.43},{"s":"b","i":14,"j":16,"w":-18.5},{"s":"b","i":14,"j":17,"w":-18.58},{"s":"b","i":14,"j":18,"w":-18.65},{"s":"b","i":14,"j":19,"w":-18.73},{"s":"b","i":14,"j":20,"w":-18.8},
{"s":"b","i":15,"j":0,"w":-17.3},{"s":"b","i":15,"j":1,"w":-17.38},{"s":"b","i":15,"j":2,"w":-17.45},{"s":"b","i":15,"j":3,"w":-17.53},{"s":"b","i":15,"j":4,"w":-17.6},{"s":"b","i":15,"j":5,"w":-17.68},{"s":"b","i":15,"j":6,"w":-17.76},{"s":"b","i":15,"j":7,"w":-17.83},{"s":"b","i":15,"j":8,"w":-17.91},{"s":"b","i":15,"j":9,"w":-17.98},{"s":"b","i":15,"j":10,"w":-18.06},{"s":"b","i":15,"j":11,"w":-18.14},{"s":"b","i":15,"j":12,"w":-18.21},{"s":"b","i":15,"j":13,"w":-18.29},{"s":"b","i":15,"j":14,"w":-18.36},{"s":"b","i":15,"j":15,"w":-18.44},{"s":"b","i":15,"j":16,"w":-18.52},{"s":"b","i":15,"j":17,"w":-18.59},{"s":"b","i":15,"j":18,"w":-18.67},{"s":"b","i":15,"j":19,"w":-18.74},{"s":"b","i":15,"j":20,"w":-18.82},
{"s":"b","i":16,"j":0,"w":-17.32},{"s":"b","i":16,"j":1,"w":-17.4},{"s":"b","i":16,"j":2,"w":-17.48},{"s":"b","i":16,"j":3,"w":-17.55},{"s":"b","i":16,"j":4,"w":-17.63},{"s":"b","i":16,"j":5,"w":-17.71},{"s":"b","i":16,"j":6,"w":-17.79},{"s":"b","i":16,"j":7,"w":-17.87},{"s":"b","i":16,"j":8,"w":-17.94},{"s":"b","i":16,"j":9,"w":-18.02},{"s":"b","i":16,"j":10,"w":-18.1},{"s":"b","i":16,"j":11,"w":-18.18},{"s":"b","i":16,"j":12,"w":-18.26},{"s":"b","i":16,"j":13,"w":-18.33},{"s":"b","i":16,"j":14,"w":-18.41},{"s":"b","i":16,"j":15,"w":-18.49},{"s":"b","i":16,"j":16,"w":-18.57},{"s":"b","i":16,"j":17,"w":-18.65},{"s":"b","i":16,"j":18,"w":-18.72},{"s":"b","i":16,"j":19,"w":-18.8},{"s":"b","i":16,"j":20,"w":-18.88},
{"s":"b","i":17,"j":0,"w":-17.39},{"s":"b","i":17,"j":1,"w":-17.47},{"s":"b","i":17,"j":2,"w":-17.55},{"s":"b","i":17,"j":3,"w":-17.63},{"s":"b","i":17,"j":4,"w":-17.71},{"s":"b","i":17,"j":5,"w":-17.79},{"s":"b","i":17,"j":6,"w":-17.87},{"s":"b","i":17,"j":7,"w":-17.95},{"s":"b","i":17,"j":8,"w":-18.03},{"s":"b","i":17,"j":9,"w":-18.11},{"s":"b","i":17,"j":10,"w":-18.19},{"s":"b","i":17,"j":11,"w":-18.26},{"s":"b","i":17,"j":12,"w":-18.34},{"s":"b","i":17,"j":13,"w":-18.42},{"s":"b","i":17,"j":14,"w":-18.5},{"s":"b","i":17,"j":15,"w":-18.58},{"s":"b","i":17,"j":16,"w":-18.66},{"s":"b","i":17,"j":17,"w":-18.74},{"s":"b","i":17,"j":18,"w":-18.82},{"s":"b","i":17,"j":19,"w":-18.9},{"s":"b","i":17,"j":20,"w":-18.98},
{"s":"b","i":18,"j":0,"w":-17.5},{"s":"b","i":18,"j":1,"w":-17.58},{"s":"b","i":18,"j":2,"w":-17.66},{"s":"b","i":18,"j":3,"w":-17.74},{"s":"b","i":18,"j":4,"w":-17.82},{"s":"b","i":18,"j":5,"w":-17.91},{"s":"b","i":18,"j":6,"w":-17.99},{"s":"b","i":18,"j":7,"w":-18.07},{"s":"b","i":18,"j":8,"w":-18.15},{"s":"b","i":18,"j":9,"w":-18.23},{"s":"b","i":18,"j":10,"w":-18.31},{"s":"b","i":18,"j":11,"w":-18.39},{"s":"b","i":18,"j":12,"w":-18.47},{"s":"b","i":18,"j":13,"w":-18.55},{"s":"b","i":18,"j":14,"w":-18.63},{"s":"b","i":18,"j":15,"w":-18.72},{"s":"b","i":18,"j":16,"w":-18.8},{"s":"b","i":18,"j":17,"w":-18.88},{"s":"b","i":18,"j":18,"w":-18.96},{"s":"b","i":18,"j":19,"w":-19.04},{"s":"b","i":18,"j":20,"w":-19.12},
{"s":"b","i":19,"j":0,"w":-17.66},{"s":"b","i":19,"j":1,"w":-17.74},{"s":"b","i":19,"j":2,"w":-17.82},{"s":"b","i":19,"j":3,"w":-17.9},{"s":"b","i":19,"j":4,"w":-17.99},{"s":"b","i":19,"j":5,"w":-18.07},{"s":"b","i":19,"j":6,"w":-18.15},{"s":"b","i":19,"j":7,"w":-18.23},{"s":"b","i":19,"j":8,"w":-18.31},{"s":"b","i":19,"j":9,"w":-18.39},{"s":"b","i":19,"j":10,"w":-18.48},{"s":"b","i":19,"j":11,"w":-18.56},{"s":"b","i":19,"j":12,"w":-18.64},{"s":"b","i":19,"j":13,"w":-18.72},{"s":"b","i":19,"j":14,"w":-18.8},{"s":"b","i":19,"j":15,"w":-18.88},{"s":"b","i":19,"j":16,"w":-18.96},{"s":"b","i":19,"j":17,"w":-19.05},{"s":"b","i":19,"j":18,"w":-19.13},{"s":"b","i":19,"j":19,"w":-19.21},{"s":"b","i":19,"j":20,"w":-19.29},
{"s":"b","i":20,"j":0,"w":-17.86},{"s":"b","i":20,"j":1,"w":-17.94},{"s":"b","i":20,"j":2,"w":-18.03},{"s":"b","i":20,"j":3,"w":-18.11},{"s":"b","i":20,"j":4,"w":-18.19},{"s":"b","i":20,"j":5,"w":-18.27},{"s":"b","i":20,"j":6,"w":-18.36},{"s":"b","i":20,"j":7,"w":-18.44},{"s":"b","i":20,"j":8,"w":-18.52},{"s":"b","i":20,"j":9,"w":-18.6},{"s":"b","i":20,"j":10,"w":-18.69},{"s":"b","i":20,"j":11,"w":-18.77},{"s":"b","i":20,"j":12,"w":-18.85},{"s":"b","i":20,"j":13,"w":-18.93},{"s":"b","i":20,"j":14,"w":-19.02},{"s":"b","i":20,"j":15,"w":-19.1},{"s":"b","i":20,"j":16,"w":-19.18},{"s":"b","i":20,"j":17,"w":-19.26},{"s":"b","i":20,"j":18,"w":-19.35},{"s":"b","i":20,"j":19,"w":-19.43},{"s":"b","i":20,"j":20,"w":-19.51},
{"s":"a","k":"f","id":"fa","o":0,"u":0,"v":0,"w":-24.8},{"s":"a","k":"f","id":"fa","o":1,"u":1,"v":0,"w":-24.8},{"s":"a","k":"f","id":"fa","o":2,"u":1,"v":1,"w":-24.8},{"s":"a","k":"f","id":"fa","o":3,"u":0,"v":1,"w":-24.8},{"s":"a","k":"f","id":"fa","o":4,"u":0,"v":0,"w":-24.8},
{"s":"b","k":"f","id":"fb","o":0,"u":0,"v":0,"w":-24.8},{"s":"b","k":"f","id":"fb","o":1,"u":1,"v":0,"w":-24.8},{"s":"b","k":"f","id":"fb","o":2,"u":1,"v":1,"w":-24.8},{"s":"b","k":"f","id":"fb","o":3,"u":0,"v":1,"w":-24.8},{"s":"b","k":"f","id":"fb","o":4,"u":0,"v":0,"w":-24.8},
{"s":"a","k":"w","id":"ah17","o":0,"u":0,"v":0,"w":-17},{"s":"a","k":"w","id":"ah17","o":1,"u":1,"v":0,"w":-17},{"s":"a","k":"w","id":"ah17","o":2,"u":1,"v":1,"w":-17},
{"s":"a","k":"w","id":"ah18","o":0,"u":0,"v":0,"w":-18},{"s":"a","k":"w","id":"ah18","o":1,"u":1,"v":0,"w":-18},{"s":"a","k":"w","id":"ah18","o":2,"u":1,"v":1,"w":-18},
{"s":"a","k":"w","id":"ah19","o":0,"u":0,"v":0,"w":-19},{"s":"a","k":"w","id":"ah19","o":1,"u":1,"v":0,"w":-19},{"s":"a","k":"w","id":"ah19","o":2,"u":1,"v":1,"w":-19},
{"s":"a","k":"w","id":"ah20","o":0,"u":0,"v":0,"w":-20},{"s":"a","k":"w","id":"ah20","o":1,"u":1,"v":0,"w":-20},{"s":"a","k":"w","id":"ah20","o":2,"u":1,"v":1,"w":-20},
{"s":"a","k":"w","id":"ah21","o":0,"u":0,"v":0,"w":-21},{"s":"a","k":"w","id":"ah21","o":1,"u":1,"v":0,"w":-21},{"s":"a","k":"w","id":"ah21","o":2,"u":1,"v":1,"w":-21},
{"s":"a","k":"w","id":"ah22","o":0,"u":0,"v":0,"w":-22},{"s":"a","k":"w","id":"ah22","o":1,"u":1,"v":0,"w":-22},{"s":"a","k":"w","id":"ah22","o":2,"u":1,"v":1,"w":-22},
{"s":"a","k":"w","id":"ah23","o":0,"u":0,"v":0,"w":-23},{"s":"a","k":"w","id":"ah23","o":1,"u":1,"v":0,"w":-23},{"s":"a","k":"w","id":"ah23","o":2,"u":1,"v":1,"w":-23},
{"s":"a","k":"w","id":"av0","o":0,"u":0,"v":0,"w":-17},{"s":"a","k":"w","id":"av0","o":1,"u":0,"v":0,"w":-24.8},
{"s":"a","k":"w","id":"av1","o":0,"u":0.25,"v":0,"w":-17},{"s":"a","k":"w","id":"av1","o":1,"u":0.25,"v":0,"w":-24.8},
{"s":"a","k":"w","id":"av2","o":0,"u":0.5,"v":0,"w":-17},{"s":"a","k":"w","id":"av2","o":1,"u":0.5,"v":0,"w":-24.8},
{"s":"a","k":"w","id":"av3","o":0,"u":0.75,"v":0,"w":-17},{"s":"a","k":"w","id":"av3","o":1,"u":0.75,"v":0,"w":-24.8},
{"s":"a","k":"w","id":"av4","o":0,"u":1,"v":0,"w":-17},{"s":"a","k":"w","id":"av4","o":1,"u":1,"v":0,"w":-24.8},
{"s":"a","k":"w","id":"av5","o":0,"u":1,"v":0.25,"w":-17},{"s":"a","k":"w","id":"av5","o":1,"u":1,"v":0.25,"w":-24.8},
{"s":"a","k":"w","id":"av6","o":0,"u":1,"v":0.5,"w":-17},{"s":"a","k":"w","id":"av6","o":1,"u":1,"v":0.5,"w":-24.8},
{"s":"a","k":"w","id":"av7","o":0,"u":1,"v":0.75,"w":-17},{"s":"a","k":"w","id":"av7","o":1,"u":1,"v":0.75,"w":-24.8},
{"s":"a","k":"w","id":"av8","o":0,"u":1,"v":1,"w":-17},{"s":"a","k":"w","id":"av8","o":1,"u":1,"v":1,"w":-24.8},
{"s":"b","k":"w","id":"bh17","o":0,"u":1,"v":1,"w":-17},{"s":"b","k":"w","id":"bh17","o":1,"u":1,"v":0,"w":-17},{"s":"b","k":"w","id":"bh17","o":2,"u":0,"v":0,"w":-17},
{"s":"b","k":"w","id":"bh18","o":0,"u":1,"v":1,"w":-18},{"s":"b","k":"w","id":"bh18","o":1,"u":1,"v":0,"w":-18},{"s":"b","k":"w","id":"bh18","o":2,"u":0,"v":0,"w":-18},
{"s":"b","k":"w","id":"bh19","o":0,"u":1,"v":1,"w":-19},{"s":"b","k":"w","id":"bh19","o":1,"u":1,"v":0,"w":-19},{"s":"b","k":"w","id":"bh19","o":2,"u":0,"v":0,"w":-19},
{"s":"b","k":"w","id":"bh20","o":0,"u":1,"v":1,"w":-20},{"s":"b","k":"w","id":"bh20","o":1,"u":1,"v":0,"w":-20},{"s":"b","k":"w","id":"bh20","o":2,"u":0,"v":0,"w":-20},
{"s":"b","k":"w","id":"bh21","o":0,"u":1,"v":1,"w":-21},{"s":"b","k":"w","id":"bh21","o":1,"u":1,"v":0,"w":-21},{"s":"b","k":"w","id":"bh21","o":2,"u":0,"v":0,"w":-21},
{"s":"b","k":"w","id":"bh22","o":0,"u":1,"v":1,"w":-22},{"s":"b","k":"w","id":"bh22","o":1,"u":1,"v":0,"w":-22},{"s":"b","k":"w","id":"bh22","o":2,"u":0,"v":0,"w":-22},
{"s":"b","k":"w","id":"bh23","o":0,"u":1,"v":1,"w":-23},{"s":"b","k":"w","id":"bh23","o":1,"u":1,"v":0,"w":-23},{"s":"b","k":"w","id":"bh23","o":2,"u":0,"v":0,"w":-23},
{"s":"b","k":"w","id":"bv0","o":0,"u":1,"v":1,"w":-17},{"s":"b","k":"w","id":"bv0","o":1,"u":1,"v":1,"w":-24.8},
{"s":"b","k":"w","id":"bv1","o":0,"u":1,"v":0.75,"w":-17},{"s":"b","k":"w","id":"bv1","o":1,"u":1,"v":0.75,"w":-24.8},
{"s":"b","k":"w","id":"bv2","o":0,"u":1,"v":0.5,"w":-17},{"s":"b","k":"w","id":"bv2","o":1,"u":1,"v":0.5,"w":-24.8},
{"s":"b","k":"w","id":"bv3","o":0,"u":1,"v":0.25,"w":-17},{"s":"b","k":"w","id":"bv3","o":1,"u":1,"v":0.25,"w":-24.8},
{"s":"b","k":"w","id":"bv4","o":0,"u":1,"v":0,"w":-17},{"s":"b","k":"w","id":"bv4","o":1,"u":1,"v":0,"w":-24.8},
{"s":"b","k":"w","id":"bv5","o":0,"u":0.75,"v":0,"w":-17},{"s":"b","k":"w","id":"bv5","o":1,"u":0.75,"v":0,"w":-24.8},
{"s":"b","k":"w","id":"bv6","o":0,"u":0.5,"v":0,"w":-17},{"s":"b","k":"w","id":"bv6","o":1,"u":0.5,"v":0,"w":-24.8},
{"s":"b","k":"w","id":"bv7","o":0,"u":0.25,"v":0,"w":-17},{"s":"b","k":"w","id":"bv7","o":1,"u":0.25,"v":0,"w":-24.8},
{"s":"b","k":"w","id":"bv8","o":0,"u":0,"v":0,"w":-17},{"s":"b","k":"w","id":"bv8","o":1,"u":0,"v":0,"w":-24.8},
{"s":"a","k":"c","id":"a22","lev":-22,"o":0,"u":0,"v":0.2,"w":-24.8},{"s":"a","k":"c","id":"a22","lev":-22,"o":1,"u":0.02,"v":0.6,"w":-24.8},{"s":"a","k":"c","id":"a22","lev":-22,"o":2,"u":0.044,"v":1,"w":-24.8},
{"s":"a","k":"c","id":"a21","lev":-21,"o":0,"u":0.082,"v":0,"w":-24.8},{"s":"a","k":"c","id":"a21","lev":-21,"o":1,"u":0.11,"v":0.45,"w":-24.8},{"s":"a","k":"c","id":"a21","lev":-21,"o":2,"u":0.153,"v":1,"w":-24.8},
{"s":"a","k":"c","id":"a20","lev":-20,"o":0,"u":0.183,"v":0,"w":-24.8},{"s":"a","k":"c","id":"a20","lev":-20,"o":1,"u":0.24,"v":0.6,"w":-24.8},{"s":"a","k":"c","id":"a20","lev":-20,"o":2,"u":0.287,"v":1,"w":-24.8},
{"s":"a","k":"c","id":"a19","lev":-19,"o":0,"u":0.3,"v":0.1,"w":-24.8},{"s":"a","k":"c","id":"a19","lev":-19,"o":1,"u":0.366,"v":0.437,"w":-24.8},{"s":"a","k":"c","id":"a19","lev":-19,"o":2,"u":0.405,"v":0.65,"w":-24.8},{"s":"a","k":"c","id":"a19","lev":-19,"o":3,"u":0.479,"v":1,"w":-24.8},
{"s":"a","k":"c","id":"a19r","lev":-19,"o":0,"u":1,"v":0.84,"w":-24.8},{"s":"a","k":"c","id":"a19r","lev":-19,"o":1,"u":0.97,"v":0.92,"w":-24.8},{"s":"a","k":"c","id":"a19r","lev":-19,"o":2,"u":0.945,"v":1,"w":-24.8},
{"s":"a","k":"c","id":"a18","lev":-18,"o":0,"u":1,"v":0.26,"w":-24.8},{"s":"a","k":"c","id":"a18","lev":-18,"o":1,"u":0.95,"v":0.36,"w":-24.8},{"s":"a","k":"c","id":"a18","lev":-18,"o":2,"u":0.885,"v":0.478,"w":-24.8},{"s":"a","k":"c","id":"a18","lev":-18,"o":3,"u":0.815,"v":0.56,"w":-24.8},{"s":"a","k":"c","id":"a18","lev":-18,"o":4,"u":0.77,"v":0.585,"w":-24.8},{"s":"a","k":"c","id":"a18","lev":-18,"o":5,"u":0.715,"v":0.58,"w":-24.8},{"s":"a","k":"c","id":"a18","lev":-18,"o":6,"u":0.672,"v":0.558,"w":-24.8},{"s":"a","k":"c","id":"a18","lev":-18,"o":7,"u":0.622,"v":0.49,"w":-24.8},{"s":"a","k":"c","id":"a18","lev":-18,"o":8,"u":0.588,"v":0.42,"w":-24.8},{"s":"a","k":"c","id":"a18","lev":-18,"o":9,"u":0.555,"v":0.35,"w":-24.8},{"s":"a","k":"c","id":"a18","lev":-18,"o":10,"u":0.54,"v":0.3,"w":-24.8},
{"s":"b","k":"c","id":"b22","lev":-22,"o":0,"u":0.024,"v":0,"w":-24.8},{"s":"b","k":"c","id":"b22","lev":-22,"o":1,"u":0.004,"v":0.3,"w":-24.8},{"s":"b","k":"c","id":"b22","lev":-22,"o":2,"u":0.002,"v":0.5,"w":-24.8},{"s":"b","k":"c","id":"b22","lev":-22,"o":3,"u":0.012,"v":0.75,"w":-24.8},{"s":"b","k":"c","id":"b22","lev":-22,"o":4,"u":0.053,"v":1,"w":-24.8},
{"s":"b","k":"c","id":"b21","lev":-21,"o":0,"u":0.115,"v":0,"w":-24.8},{"s":"b","k":"c","id":"b21","lev":-21,"o":1,"u":0.108,"v":0.34,"w":-24.8},{"s":"b","k":"c","id":"b21","lev":-21,"o":2,"u":0.115,"v":0.465,"w":-24.8},{"s":"b","k":"c","id":"b21","lev":-21,"o":3,"u":0.15,"v":0.81,"w":-24.8},{"s":"b","k":"c","id":"b21","lev":-21,"o":4,"u":0.167,"v":1,"w":-24.8},
{"s":"b","k":"c","id":"b20","lev":-20,"o":0,"u":0.216,"v":0,"w":-24.8},{"s":"b","k":"c","id":"b20","lev":-20,"o":1,"u":0.22,"v":0.3,"w":-24.8},{"s":"b","k":"c","id":"b20","lev":-20,"o":2,"u":0.255,"v":0.64,"w":-24.8},{"s":"b","k":"c","id":"b20","lev":-20,"o":3,"u":0.307,"v":1,"w":-24.8},
{"s":"b","k":"c","id":"b19","lev":-19,"o":0,"u":0.33,"v":0,"w":-24.8},{"s":"b","k":"c","id":"b19","lev":-19,"o":1,"u":0.34,"v":0.2,"w":-24.8},{"s":"b","k":"c","id":"b19","lev":-19,"o":2,"u":0.375,"v":0.53,"w":-24.8},{"s":"b","k":"c","id":"b19","lev":-19,"o":3,"u":0.465,"v":0.87,"w":-24.8},{"s":"b","k":"c","id":"b19","lev":-19,"o":4,"u":0.52,"v":1,"w":-24.8},
{"s":"b","k":"c","id":"b19l","lev":-19,"o":0,"u":1,"v":0.788,"w":-24.8},{"s":"b","k":"c","id":"b19l","lev":-19,"o":1,"u":0.95,"v":0.88,"w":-24.8},{"s":"b","k":"c","id":"b19l","lev":-19,"o":2,"u":0.895,"v":1,"w":-24.8},
{"s":"b","k":"c","id":"b18","lev":-18,"o":0,"u":1,"v":0.133,"w":-24.8},{"s":"b","k":"c","id":"b18","lev":-18,"o":1,"u":0.965,"v":0.235,"w":-24.8},{"s":"b","k":"c","id":"b18","lev":-18,"o":2,"u":0.94,"v":0.325,"w":-24.8},{"s":"b","k":"c","id":"b18","lev":-18,"o":3,"u":0.895,"v":0.43,"w":-24.8},{"s":"b","k":"c","id":"b18","lev":-18,"o":4,"u":0.863,"v":0.493,"w":-24.8},{"s":"b","k":"c","id":"b18","lev":-18,"o":5,"u":0.81,"v":0.553,"w":-24.8},{"s":"b","k":"c","id":"b18","lev":-18,"o":6,"u":0.757,"v":0.58,"w":-24.8},{"s":"b","k":"c","id":"b18","lev":-18,"o":7,"u":0.7,"v":0.58,"w":-24.8},{"s":"b","k":"c","id":"b18","lev":-18,"o":8,"u":0.66,"v":0.55,"w":-24.8},{"s":"b","k":"c","id":"b18","lev":-18,"o":9,"u":0.61,"v":0.48,"w":-24.8},{"s":"b","k":"c","id":"b18","lev":-18,"o":10,"u":0.58,"v":0.39,"w":-24.8},
{"s":"a","k":"t","a":"z","u":0,"v":0,"w":-17,"t":"-17"},{"s":"a","k":"t","a":"z","u":0,"v":0,"w":-18,"t":"-18"},{"s":"a","k":"t","a":"z","u":0,"v":0,"w":-19,"t":"-19"},{"s":"a","k":"t","a":"z","u":0,"v":0,"w":-20,"t":"-20"},{"s":"a","k":"t","a":"z","u":0,"v":0,"w":-21,"t":"-21"},{"s":"a","k":"t","a":"z","u":0,"v":0,"w":-22,"t":"-22"},{"s":"a","k":"t","a":"z","u":0,"v":0,"w":-23,"t":"-23"},
{"s":"a","k":"t","a":"r","u":0,"v":0,"w":-24.8,"t":"0.1"},{"s":"a","k":"t","a":"r","u":0,"v":0.25,"w":-24.8,"t":"0.15"},{"s":"a","k":"t","a":"r","u":0,"v":0.5,"w":-24.8,"t":"0.2"},{"s":"a","k":"t","a":"r","u":0,"v":0.75,"w":-24.8,"t":"0.25"},{"s":"a","k":"t","a":"r","u":0,"v":1,"w":-24.8,"t":"0.3"},
{"s":"a","k":"t","a":"l","u":0,"v":1,"w":-24.8,"t":"0.1"},{"s":"a","k":"t","a":"l","u":0.25,"v":1,"w":-24.8,"t":"0.15"},{"s":"a","k":"t","a":"l","u":0.5,"v":1,"w":-24.8,"t":"0.2"},{"s":"a","k":"t","a":"l","u":0.75,"v":1,"w":-24.8,"t":"0.25"},{"s":"a","k":"t","a":"l","u":1,"v":1,"w":-24.8,"t":"0.3"},
{"s":"b","k":"t","a":"z","u":1,"v":1,"w":-17,"t":"-17"},{"s":"b","k":"t","a":"z","u":1,"v":1,"w":-18,"t":"-18"},{"s":"b","k":"t","a":"z","u":1,"v":1,"w":-19,"t":"-19"},{"s":"b","k":"t","a":"z","u":1,"v":1,"w":-20,"t":"-20"},{"s":"b","k":"t","a":"z","u":1,"v":1,"w":-21,"t":"-21"},{"s":"b","k":"t","a":"z","u":1,"v":1,"w":-22,"t":"-22"},{"s":"b","k":"t","a":"z","u":1,"v":1,"w":-23,"t":"-23"},
{"s":"b","k":"t","a":"r","u":1,"v":1,"w":-24.8,"t":"0.3"},{"s":"b","k":"t","a":"r","u":0.75,"v":1,"w":-24.8,"t":"0.25"},{"s":"b","k":"t","a":"r","u":0.5,"v":1,"w":-24.8,"t":"0.2"},{"s":"b","k":"t","a":"r","u":0.25,"v":1,"w":-24.8,"t":"0.15"},{"s":"b","k":"t","a":"r","u":0,"v":1,"w":-24.8,"t":"0.1"},
{"s":"b","k":"t","a":"l","u":0,"v":0,"w":-24.8,"t":"80"},{"s":"b","k":"t","a":"l","u":0,"v":0.25,"w":-24.8,"t":"85"},{"s":"b","k":"t","a":"l","u":0,"v":0.5,"w":-24.8,"t":"90"},{"s":"b","k":"t","a":"l","u":0,"v":0.75,"w":-24.8,"t":"95"},{"s":"b","k":"t","a":"l","u":0,"v":1,"w":-24.8,"t":"100"},
{"s":"a","k":"x","a":"x","u":-0.388,"v":0.579,"w":-24.8,"t":"M clearance"},{"s":"a","k":"x","a":"x","u":0.514,"v":1.314,"w":-24.8,"t":"B clearance"},{"s":"a","k":"x","a":"y","u":-0.262,"v":0,"w":-20.6,"t":"WDI"},{"s":"a","k":"x","a":"p","u":0.0026,"v":1.45,"w":-24.8,"t":"(a)"},
{"s":"b","k":"x","a":"x","u":0.624,"v":1.372,"w":-24.8,"t":"B clearance"},{"s":"b","k":"x","a":"x","u":-0.282,"v":0.612,"w":-24.8,"t":"Boosting"},{"s":"b","k":"x","a":"y","u":1,"v":1.373,"w":-19.69,"t":"WDI"},{"s":"b","k":"x","a":"p","u":0.083,"v":1.403,"w":-24.8,"t":"(b)"}
]},
"transform":[
{"calculate":"isValid(datum.i)?datum.i/20:datum.u","as":"U"},{"calculate":"isValid(datum.j)?datum.j/20:datum.v","as":"V"},{"calculate":"(datum.w+24.8)/7.8","as":"T"},
{"calculate":"datum.s=='a'?(1-datum.T)*((1-datum.U)*((1-datum.V)*319+datum.V*697)+datum.U*((1-datum.V)*1100+datum.V*1560))+datum.T*((1-datum.U)*((1-datum.V)*258+datum.V*686)+datum.U*((1-datum.V)*1121+datum.V*1631)):(1-datum.T)*((1-datum.U)*((1-datum.V)*3445+datum.V*2972)+datum.U*((1-datum.V)*2668+datum.V*2164))+datum.T*((1-datum.U)*((1-datum.V)*3513+datum.V*2951)+datum.U*((1-datum.V)*2683+datum.V*2090))","as":"px"},
{"calculate":"datum.s=='a'?(1-datum.T)*((1-datum.U)*((1-datum.V)*883+datum.V*1340)+datum.U*((1-datum.V)*695+datum.V*1090))+datum.T*((1-datum.U)*((1-datum.V)*191+datum.V*585)+datum.U*((1-datum.V)*31+datum.V*370)):(1-datum.T)*((1-datum.U)*((1-datum.V)*934+datum.V*1388)+datum.U*((1-datum.V)*700+datum.V*1082))+datum.T*((1-datum.U)*((1-datum.V)*244+datum.V*633)+datum.U*((1-datum.V)*37+datum.V*374))","as":"py"}
],
"encoding":{"x":{"field":"px","type":"quantitative","scale":{"domain":[0,3560],"range":[0,3560],"nice":false,"zero":false},"axis":null},"y":{"field":"py","type":"quantitative","scale":{"domain":[0,1592],"range":[0,1592],"nice":false,"zero":false},"axis":null}},
"layer":[
{"transform":[{"filter":"datum.k=='f'"}],"mark":{"type":"line","fill":"#ffff00","stroke":"#000000","strokeWidth":4},"encoding":{"detail":{"field":"id"},"order":{"field":"o"}}},
{"transform":[{"filter":"datum.k=='w'"}],"mark":{"type":"line","stroke":"#000000","strokeWidth":3.5},"encoding":{"detail":{"field":"id"},"order":{"field":"o"}}},
{"transform":[{"filter":"datum.k=='c'"}],"mark":{"type":"line","strokeWidth":3.5},"encoding":{"detail":{"field":"id"},"order":{"field":"o"},"stroke":{"field":"lev","type":"quantitative","legend":null,"scale":{"domain":[-22,-21,-20,-19,-18],"range":["#0a78ff","#00e6c8","#00e600","#a6f500","#ff7a00"],"clamp":true}}}},
{"transform":[{"filter":"isValid(datum.i)"},{"calculate":"[0,1,2,3,4]","as":"n"},{"flatten":["n"]},{"calculate":"datum.i-((datum.n==1||datum.n==2)?1:0)","as":"ci"},{"calculate":"datum.j-((datum.n==2||datum.n==3)?1:0)","as":"cj"},{"filter":"datum.ci>=0&&datum.ci<20&&datum.cj>=0&&datum.cj<20"},{"calculate":"datum.s+'-'+datum.ci+'-'+datum.cj","as":"cell"},{"joinaggregate":[{"op":"mean","field":"w","as":"mw"}],"groupby":["cell"]}],
"mark":{"type":"line","stroke":"#000000","strokeWidth":2.8},"encoding":{"detail":{"field":"cell"},"order":{"field":"n"},"fill":{"field":"mw","type":"quantitative","legend":null,"scale":{"domain":[-22.3,-21.7,-21.1,-20.6,-20.1,-19.45,-19.2,-18.9,-18.6,-18.3,-18,-17.7,-17.4],"range":["#0000ff","#0082ff","#00ffff","#00ff96","#00ff00","#00ff00","#b0ff00","#ffff00","#ffc800","#ff9600","#ff5a00","#ff2800","#ff0000"],"clamp":true}}}},
{"transform":[{"filter":"datum.k=='t'"}],"mark":{"type":"point","filled":true,"color":"#000000","size":110,"opacity":1}},
{"transform":[{"filter":"datum.a=='z'"}],"mark":{"type":"text","font":"Liberation Serif","fontSize":68,"dx":-83,"dy":-41,"align":"center","baseline":"middle"},"encoding":{"text":{"field":"t"}}},
{"transform":[{"filter":"datum.a=='r'"}],"mark":{"type":"text","font":"Liberation Serif","fontSize":68,"dx":-38,"dy":43,"align":"right","baseline":"middle"},"encoding":{"text":{"field":"t"}}},
{"transform":[{"filter":"datum.a=='l'"}],"mark":{"type":"text","font":"Liberation Serif","fontSize":68,"dx":38,"dy":43,"align":"left","baseline":"middle"},"encoding":{"text":{"field":"t"}}},
{"transform":[{"filter":"datum.a=='x'"}],"mark":{"type":"text","font":"Liberation Serif","fontSize":79,"align":"center","baseline":"middle"},"encoding":{"text":{"field":"t"}}},
{"transform":[{"filter":"datum.a=='y'"}],"mark":{"type":"text","font":"Liberation Serif","fontSize":82,"angle":270,"align":"center","baseline":"middle"},"encoding":{"text":{"field":"t"}}},
{"transform":[{"filter":"datum.a=='p'"}],"mark":{"type":"text","font":"Liberation Serif","fontSize":68,"fontWeight":"bold","align":"center","baseline":"middle"},"encoding":{"text":{"field":"t"}}}
]}
